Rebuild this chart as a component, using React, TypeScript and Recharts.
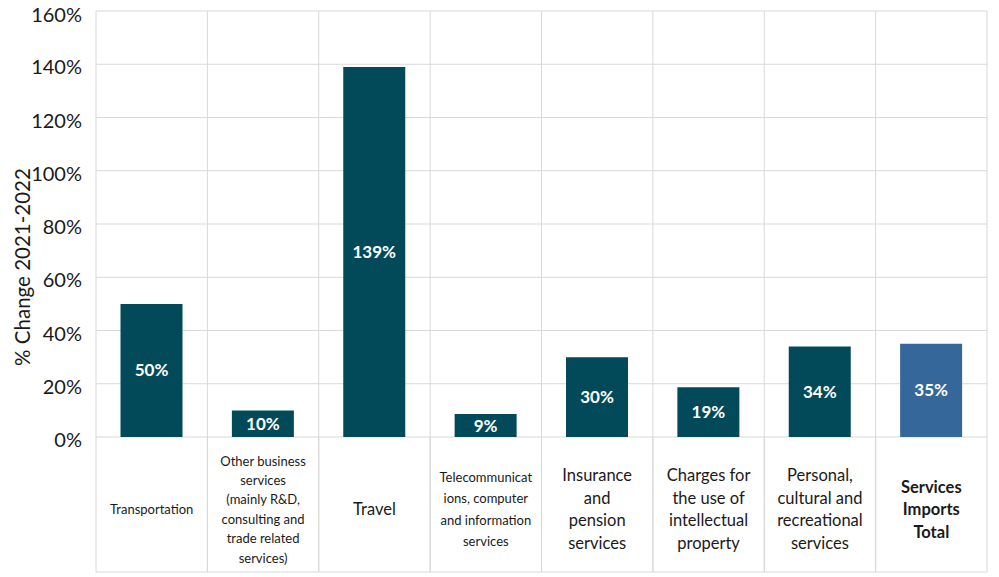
import { BarChart, Bar, XAxis, YAxis, CartesianGrid, LabelList, Cell } from 'recharts';

// categories, in chart order
const CATEGORIES = [
    'Transportation',
    'Other business services (mainly R&D, consulting and trade related services)',
    'Travel',
    'Telecommunications, computer and information services',
    'Insurance and pension services',
    'Charges for the use of intellectual property',
    'Personal, cultural and recreational services',
    'Services Imports Total',
];
// % change 2021-2022
const CHANGE = [50, 10, 139, 8.6, 30, 18.7, 34, 35];
// wrapped tick labels, as printed under the chart
const LABEL_LINES = [
    ['Transportation'],
    ['Other business', 'services', '(mainly R&D,', 'consulting and', 'trade related', 'services)'],
    ['Travel'],
    ['Telecommunicat', 'ions, computer', 'and information', 'services'],
    ['Insurance', 'and', 'pension', 'services'],
    ['Charges for', 'the use of', 'intellectual', 'property'],
    ['Personal,', 'cultural and', 'recreational', 'services'],
    ['Services', 'Imports', 'Total'],
];
const Y_TICKS = [0, 20, 40, 60, 80, 100, 120, 140, 160];

const data = CATEGORIES.map((name, i) => ({ name, change: CHANGE[i] }));

const FONT = 'Lato, "Open Sans", sans-serif';
const GRID = '#d9d9d9';
const TEAL = '#024a59';
const TOTAL_BLUE = '#35679a';
const TABLE_H = 135;
// font size / line height / weight per tick label
const TICK_STYLE = [
    { size: 13, lh: 19, bold: false },
    { size: 13, lh: 19.4, bold: false },
    { size: 16.5, lh: 22, bold: false },
    { size: 13, lh: 21.5, bold: false },
    { size: 16.5, lh: 22.5, bold: false },
    { size: 16.5, lh: 22.8, bold: false },
    { size: 16.5, lh: 22.8, bold: false },
    { size: 16.5, lh: 22.5, bold: true },
];

function TableTick(props: any) {
    const { x, y, payload } = props;
    const i = payload.index;
    const half = payload.offset || 55.7;
    const lines = LABEL_LINES[i];
    const st = TICK_STYLE[i];
    const cy = y + 72;
    const y0 = cy - ((lines.length - 1) * st.lh) / 2;
    return (
        <g>
            <line x1={x - half} y1={y} x2={x - half} y2={y + TABLE_H} stroke={GRID} />
            <line x1={x + half} y1={y} x2={x + half} y2={y + TABLE_H} stroke={GRID} />
            <line x1={x - half} y1={y + TABLE_H} x2={x + half} y2={y + TABLE_H} stroke={GRID} />
            <text textAnchor="middle" fontFamily={FONT} fontSize={st.size} fontWeight={st.bold ? 700 : 400} fill="#1a1a1a">
                {lines.map((l, k) => (
                    <tspan key={k} x={x} y={y0 + k * st.lh} dominantBaseline="central">{l}</tspan>
                ))}
            </text>
        </g>
    );
}

export default function App() {
    return (
        <div style={{ position: 'absolute', left: 0, top: 0, background: '#fff' }}>
            <BarChart width={999} height={577} data={data} margin={{ top: 11, right: 12, left: 0, bottom: 0 }} barCategoryGap="22%">
                <CartesianGrid stroke={GRID}
                    verticalCoordinatesGenerator={(p: any) => {
                        const o = p.offset;
                        return CATEGORIES.map((_, i) => o.left + (i * o.width) / CATEGORIES.length).concat(o.left + o.width);
                    }} />
                <XAxis dataKey="name" interval={0} axisLine={false} tickLine={false} tickSize={0} tickMargin={0}
                    height={140} tick={<TableTick />} />
                <YAxis domain={[0, 160]} ticks={Y_TICKS} width={96} axisLine={false} tickLine={false} tickMargin={8}
                    tickFormatter={(v: number) => `${v}%`}
                    tick={{ fontSize: 20, fill: '#1a1a1a', fontFamily: FONT, dy: 3 }}
                    label={{
                        content: () => (
                            <text x={22} y={267} transform="rotate(-90 22 267)" textAnchor="middle" dominantBaseline="central"
                                fontFamily={FONT} fontSize={20.5} fill="#1a1a1a">% Change 2021-2022</text>
                        ),
                    }} />
                <Bar dataKey="change" isAnimationActive={false}>
                    {data.map((d, i) => <Cell key={d.name} fill={i === data.length - 1 ? TOTAL_BLUE : TEAL} />)}
                    <LabelList dataKey="change" position="center" formatter={(v: any) => `${Math.round(Number(v))}%`}
                        style={{ fill: '#fff', fontFamily: FONT, fontSize: 17, fontWeight: 700 }} />
                </Bar>
            </BarChart>
        </div>
    );
}
